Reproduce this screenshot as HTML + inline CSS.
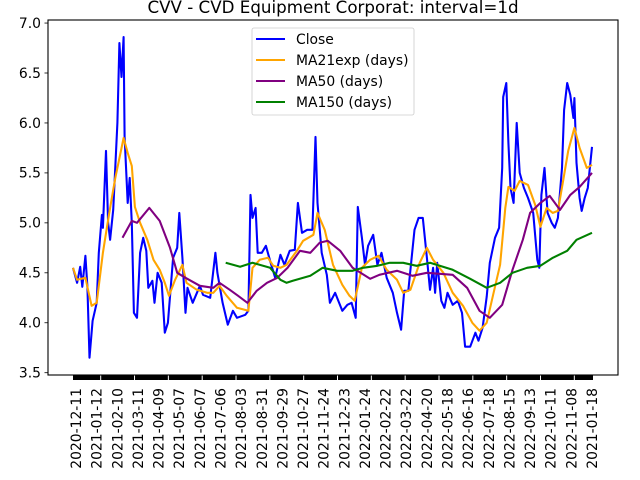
<!DOCTYPE html>
<html><head><meta charset="utf-8"><style>
html,body{margin:0;padding:0;background:#fff;}
svg{display:block;font-family:"DejaVu Sans","Liberation Sans",sans-serif;}
</style></head><body>
<svg id="chart" width="640" height="480" viewBox="0 0 640 480">
<rect x="0" y="0" width="640" height="480" fill="#fff"/>
<text x="333" y="13" font-size="16.7" text-anchor="middle" fill="#000">CVV - CVD Equipment Corporat: interval=1d</text>
<g id="plot"></g>
</svg>
<script>
const dateLabels = ["2020-12-11","2021-01-12","2021-02-10","2021-03-11","2021-04-09","2021-05-07","2021-06-07","2021-07-06","2021-08-03","2021-08-31","2021-09-29","2021-10-27","2021-11-24","2021-12-23","2022-01-24","2022-02-22","2022-03-22","2022-04-20","2022-05-18","2022-06-16","2022-07-18","2022-08-15","2022-09-13","2022-10-11","2022-11-08","2021-01-18"];
const yTicks = [3.5,4.0,4.5,5.0,5.5,6.0,6.5,7.0];
const closeDay = [0,4,7,9,12,14,16,19,23,25,28,29,32,34,36,39,41,43,45,47,49,50,53,55,57,59,62,65,68,71,73,77,79,82,86,89,92,97,101,103,106,109,111,116,123,126,133,138,140,145,150,155,159,167,170,172,174,177,179,183,187,191,196,201,205,210,215,218,222,227,232,235,237,241,246,249,254,261,266,270,274,276,280,283,286,291,295,299,304,310,314,318,321,325,331,335,339,343,346,349,351,353,357,360,363,368,373,377,380,385,390,393,397,401,404,409,413,416,417,420,422,424,427,430,433,437,441,446,450,452,454,457,460,464,467,470,474,476,479,482,485,486,488,491,493,496,499,503];
const closeVal = [4.55,4.40,4.56,4.36,4.67,4.36,3.65,4.02,4.2,4.7,5.08,4.95,5.72,5.0,4.83,5.13,5.56,6.0,6.8,6.46,6.86,5.86,5.2,5.45,5.0,4.1,4.05,4.7,4.85,4.72,4.35,4.42,4.2,4.5,4.4,3.9,4.0,4.65,4.75,5.1,4.65,4.1,4.35,4.2,4.37,4.28,4.25,4.7,4.5,4.2,3.98,4.12,4.05,4.08,4.12,5.28,5.05,5.15,4.7,4.7,4.77,4.62,4.45,4.68,4.58,4.72,4.73,5.2,4.9,4.93,4.93,5.86,5.2,4.7,4.48,4.2,4.3,4.12,4.18,4.2,4.05,5.16,4.85,4.58,4.77,4.88,4.58,4.7,4.45,4.3,4.1,3.93,4.32,4.32,4.93,5.05,5.05,4.65,4.33,4.55,4.3,4.6,4.22,4.15,4.3,4.18,4.22,4.1,3.76,3.76,3.9,3.82,3.95,4.26,4.6,4.85,4.95,5.55,6.26,6.4,5.8,5.35,5.2,6.0,5.5,5.35,5.25,5.1,4.63,4.55,5.28,5.55,5.1,5.0,4.95,5.05,5.55,6.13,6.4,6.28,6.05,6.25,5.6,5.25,5.12,5.25,5.35,5.76];
const ma21Day = [0,4,12,18,23,29,33,36,41,46,49,53,57,60,65,72,78,84,89,93,99,106,110,120,130,136,142,149,159,170,174,181,189,194,201,207,217,223,233,237,244,252,261,268,273,280,288,296,304,314,320,327,336,343,349,359,368,378,387,394,401,407,414,419,422,428,433,441,448,453,459,465,470,475,480,486,491,498,503];
const ma21Val = [4.55,4.43,4.45,4.17,4.2,4.7,4.96,5.15,5.45,5.7,5.85,5.7,5.57,5.16,5.0,4.83,4.63,4.53,4.4,4.27,4.43,4.58,4.4,4.33,4.3,4.3,4.37,4.27,4.15,4.12,4.55,4.63,4.65,4.57,4.55,4.58,4.72,4.82,4.88,5.1,4.93,4.58,4.38,4.27,4.22,4.55,4.63,4.67,4.53,4.43,4.3,4.33,4.6,4.75,4.63,4.5,4.3,4.17,4.0,3.92,4.0,4.27,4.58,5.15,5.36,5.32,5.42,5.38,5.18,4.96,5.15,5.1,5.12,5.42,5.72,5.95,5.75,5.55,5.58];
const ma50Day = [48,57,62,74,84,94,101,109,123,136,142,152,160,169,178,188,198,208,220,230,239,247,259,271,288,297,314,329,343,368,382,394,404,416,426,436,443,453,462,472,482,491,503];
const ma50Val = [4.85,5.02,5.0,5.15,5.02,4.75,4.5,4.45,4.37,4.35,4.4,4.33,4.27,4.2,4.32,4.4,4.45,4.55,4.72,4.7,4.8,4.82,4.72,4.55,4.44,4.48,4.52,4.47,4.5,4.48,4.35,4.12,4.05,4.18,4.53,4.83,5.1,5.2,5.27,5.13,5.28,5.36,5.5];
const ma150Day = [148,162,174,191,201,207,213,230,242,256,271,281,295,307,320,333,346,368,385,401,414,426,440,453,465,479,488,503];
const ma150Val = [4.6,4.56,4.6,4.55,4.43,4.4,4.42,4.47,4.55,4.52,4.52,4.55,4.57,4.6,4.6,4.57,4.6,4.53,4.44,4.35,4.4,4.5,4.55,4.57,4.65,4.72,4.83,4.9];
const nDays = 505;

const NS = "http://www.w3.org/2000/svg";
const L = 48, R = 618, T = 20, B = 375;
const X0 = 73, X1 = 593;
function xs(d){ return X0 + d * (X1 - X0) / (nDays - 1); }
function ys(v){ return 372.7 - (v - 3.5) * 99.9; }
const plot = document.getElementById('plot');
function mk(tag, attrs, parent){
  const e = document.createElementNS(NS, tag);
  for (const k in attrs) e.setAttribute(k, attrs[k]);
  (parent || plot).appendChild(e);
  return e;
}

yTicks.forEach(v => {
  const y = ys(v);
  const t = mk('line', {x1: L-3.5, x2: L, y1: y, y2: y, stroke: '#000', 'stroke-width': 0.8});
  
  
  const lb = mk('text', {x: L-7, y: y+4.8, 'font-size': 13.9, 'text-anchor': 'end', fill: '#000'});
  lb.textContent = v.toFixed(1);
  
  
});

const bar = mk('rect', {x: X0, y: B, width: X1 - X0, height: 5, fill: '#000'});


for (let gx = 100.7; gx < X1; gx += 33.83) {
  const g = mk('line', {x1: gx, x2: gx, y1: B, y2: B+5, stroke: '#fff', 'stroke-width': 1});
  
  
}
dateLabels.forEach((s, k) => {
  const cx = 76 + k * 20.64;
  const lb = mk('text', {x: 0, y: 0, 'font-size': 13.9, 'text-anchor': 'end', fill: '#000',
    transform: `translate(${cx+5},388) rotate(-90)`});
  lb.textContent = s;
  
  
});

function series(days, vals, color, name){
  const pts = days.map((d, i) => xs(d).toFixed(1) + ',' + ys(vals[i]).toFixed(1)).join(' ');
  const p = mk('polyline', {points: pts, fill: 'none', stroke: color, 'stroke-width': 2.08, 'stroke-linejoin': 'round'});
  
  
}
series(closeDay, closeVal, '#0000ff', 'close-line');
series(ma21Day, ma21Val, '#ffa500', 'ma21exp-line');
series(ma50Day, ma50Val, '#800080', 'ma50-line');
series(ma150Day, ma150Val, '#008000', 'ma150-line');

const fr = mk('rect', {x: L, y: T, width: R - L, height: B - T, fill: 'none', stroke: '#000', 'stroke-width': 1.1});



const lg = mk('g', {});


const lbx = mk('rect', {x: 252, y: 28, width: 162, height: 87, rx: 2, fill: '#fff', 'fill-opacity': 0.8, stroke: '#ccc', 'stroke-width': 0.8}, lg);


const legNames = ['Close','MA21exp (days)','MA50 (days)','MA150 (days)'];
const legColors = ['#0000ff','#ffa500','#800080','#008000'];
legNames.forEach((n, i) => {
  const y = 39 + i * 21;
  const ln = mk('line', {x1: 256, x2: 285, y1: y, y2: y, stroke: legColors[i], 'stroke-width': 2.08}, lg);
  
  
  const t = mk('text', {x: 296, y: y + 5, 'font-size': 13.9, fill: '#000'}, lg);
  t.textContent = n;
  
  
});
</script>
</body></html>
